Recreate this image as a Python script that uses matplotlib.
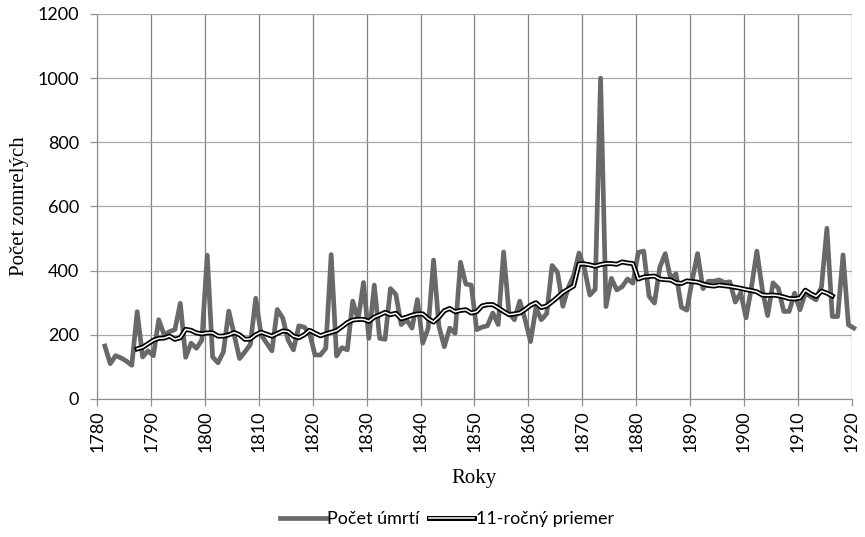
import matplotlib
matplotlib.use('Agg')
import matplotlib.pyplot as plt
import matplotlib.patheffects as pe

years = list(range(1781, 1921))
deaths = [165, 110, 135, 128, 118, 105, 272, 131, 150, 135,
          247, 200, 210, 216, 298, 130, 174, 158, 184, 448,
          131, 113, 147, 274, 200, 126, 147, 170, 314, 200,
          175, 150, 279, 253, 184, 153, 228, 224, 205, 137,
          137, 158, 450, 134, 160, 153, 305, 247, 363, 189,
          355, 189, 186, 344, 326, 232, 247, 221, 310, 174,
          221, 433, 226, 163, 221, 205, 426, 358, 355, 216,
          224, 228, 268, 232, 458, 268, 247, 305, 247, 179,
          284, 247, 266, 416, 395, 289, 347, 385, 455, 407,
          324, 342, 1000, 288, 376, 340, 350, 374, 361, 457,
          461, 320, 299, 411, 453, 375, 390, 286, 277, 370,
          453, 344, 367, 367, 371, 363, 365, 302, 331, 253,
          348, 461, 343, 260, 362, 345, 273, 273, 330, 278,
          330, 319, 309, 350, 532, 257, 257, 449, 231, 221]

ma_years = list(range(1787, 1917))
ma_values = [156, 161, 172, 183, 189, 190, 196, 186, 191, 217,
             214, 206, 203, 206, 206, 196, 196, 200, 207, 200,
             186, 187, 200, 208, 202, 196, 204, 212, 210, 196,
             191, 200, 214, 205, 197, 203, 208, 213, 225, 238,
             246, 248, 248, 242, 255, 262, 270, 263, 267, 250,
             255, 261, 265, 265, 250, 240, 255, 275, 282, 272,
             276, 278, 268, 272, 290, 294, 294, 284, 273, 263,
             265, 268, 279, 292, 300, 285, 290, 303, 317, 332,
             342, 352, 421, 421, 418, 414, 419, 422, 422, 420,
             427, 424, 422, 374, 380, 382, 383, 374, 372, 371,
             362, 360, 368, 366, 364, 358, 354, 352, 355, 353,
             351, 348, 345, 341, 338, 334, 324, 323, 324, 322,
             318, 313, 312, 315, 339, 328, 320, 336, 330, 321]

x_ticks = list(range(1780, 1921, 10))
y_ticks = list(range(0, 1201, 200))

shift = 0.4  # points sit slightly right of the year gridline

fig = plt.figure(figsize=(8.65, 5.37), dpi=100)
ax = fig.add_axes([0.1125, 0.257, 0.8721, 0.717])

ax.plot([y + shift for y in years], deaths, color='#696969', lw=3.4,
        solid_joinstyle='round', clip_on=False, label='Počet úmrtí', zorder=3)
ax.plot([y + shift for y in ma_years], ma_values, color='white', lw=1.1,
        path_effects=[pe.Stroke(linewidth=3.6, foreground='black'), pe.Normal()],
        label='11-ročný priemer', zorder=4)

ax.set_xlim(1780, 1920)
ax.set_ylim(0, 1200)
ax.set_xticks(x_ticks)
ax.set_yticks(y_ticks)
ax.set_xticklabels([str(t) for t in x_ticks], rotation=90, family='Lato', fontsize=13)
ax.set_yticklabels([str(t) for t in y_ticks], family='Lato', fontsize=13)

ax.grid(axis='y', color='#a8a8a8', lw=0.9)
ax.grid(axis='x', color='#808080', lw=0.9)
ax.set_axisbelow(True)
for s in ['top', 'right']:
    ax.spines[s].set_visible(False)
for s in ['left', 'bottom']:
    ax.spines[s].set_color('#909090')
    ax.spines[s].set_linewidth(0.9)
ax.tick_params(axis='both', length=5, color='#909090', width=0.9, pad=3)
ax.tick_params(axis='y', pad=8)

ax.set_xlabel('Roky', family='Liberation Serif', fontsize=15, labelpad=12)
ax.set_ylabel('Počet zomrelých', family='Liberation Serif', fontsize=15, labelpad=6)

leg = fig.legend(loc='lower center', bbox_to_anchor=(0.517, -0.012), ncol=2, frameon=False,
                 prop={'family': 'Lato', 'size': 13}, handlelength=2.5,
                 handletextpad=0.1, columnspacing=0.5)

fig.savefig('out.png', dpi=100)
